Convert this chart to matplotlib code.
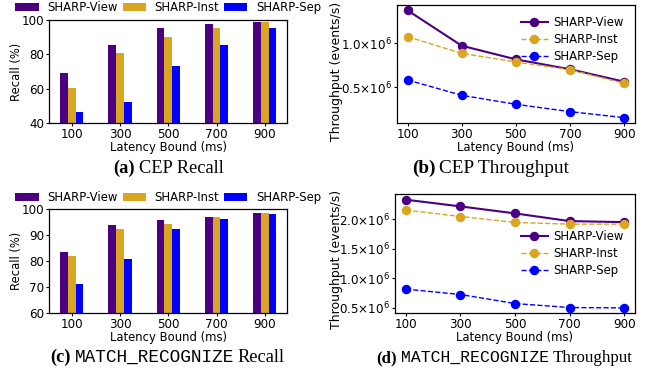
#!/usr/bin/env python3
"""SHARP recall / throughput vs latency bound -> out.png"""
import numpy as np
import matplotlib
matplotlib.use("Agg")
import matplotlib.pyplot as plt
from matplotlib.ticker import MultipleLocator, FuncFormatter

VIEW, INST, SEP = "#4b0082", "#daa520", "#0000ff"
NAMES = ["SHARP-View", "SHARP-Inst", "SHARP-Sep"]
FS, TFS = 8.4, 8.6     # label / legend size, tick label size
plt.rcParams.update({"font.size": FS, "font.family": "DejaVu Sans",
                     "axes.linewidth": 0.9})

latency = [100, 300, 500, 700, 900]

cep_recall_view = [69.4, 85.7, 95.4, 97.7, 98.8]
cep_recall_inst = [60.5, 81.0, 90.1, 95.4, 98.8]
cep_recall_sep = [46.6, 52.4, 73.3, 85.7, 95.4]

mr_recall_view = [83.6, 94.0, 95.9, 97.1, 98.6]
mr_recall_inst = [82.1, 92.4, 94.4, 97.1, 98.6]
mr_recall_sep = [71.3, 80.9, 92.4, 96.3, 98.3]

cep_tput_view = [1.375e6, 0.973e6, 0.818e6, 0.705e6, 0.564e6]
cep_tput_inst = [1.076e6, 0.886e6, 0.788e6, 0.700e6, 0.545e6]
cep_tput_sep = [0.583e6, 0.409e6, 0.307e6, 0.223e6, 0.155e6]

mr_tput_view = [2.336e6, 2.222e6, 2.103e6, 1.972e6, 1.954e6]
mr_tput_inst = [2.160e6, 2.050e6, 1.949e6, 1.920e6, 1.920e6]
mr_tput_sep = [0.813e6, 0.722e6, 0.568e6, 0.500e6, 0.494e6]

W, H = 651, 375
fig = plt.figure(figsize=(W / 100, H / 100), dpi=100)

def px_axes(l, r, t, b):
    return fig.add_axes([l / W, 1 - b / H, (r - l) / W, (b - t) / H])

def style(ax):
    ax.tick_params(length=2, width=0.8, labelsize=TFS, pad=1.5)
    ax.set_xlabel("Latency Bound (ms)", fontsize=FS, labelpad=0)

def bars(ax, series, ylim, step, leg_y):
    x = np.arange(len(latency))
    w = 0.16
    for k, (ys, c) in enumerate(zip(series, [VIEW, INST, SEP])):
        ax.bar(x + (k - 1) * w, ys, width=w, color=c, label=NAMES[k])
    ax.set_xticks(x)
    ax.set_xticklabels([str(v) for v in latency])
    ax.set_ylim(*ylim)
    ax.yaxis.set_major_locator(MultipleLocator(step))
    ax.set_ylabel("Recall (%)", fontsize=8.3)
    ax.yaxis.set_label_coords(-0.112, 0.5)
    style(ax)
    ax.legend(loc="center", bbox_to_anchor=(0.5, leg_y), ncol=3, frameon=False,
              handlelength=2.0, handletextpad=0.75, columnspacing=0.4,
              borderpad=0, fontsize=FS)

def mfmt(v, _=None):
    return f"{v/1e6:.1f}" + r"$\times10^{6}$"

def lines(ax, series, loc, lab_xy):
    styles = [("-", 1.5, VIEW), ("--", 1.0, INST), ("--", 1.0, SEP)]
    for ys, (ls, lw, c), n in zip(series, styles, NAMES):
        ax.plot(latency, ys, ls=ls, lw=lw, color=c, marker="o", ms=5.8, label=n)
    ax.set_xticks(latency)
    ax.yaxis.set_major_locator(MultipleLocator(0.5e6))
    ax.yaxis.set_major_formatter(FuncFormatter(mfmt))
    ax.set_ylabel("Throughput (events/s)", fontsize=9)
    ax.yaxis.set_label_coords(*lab_xy)
    style(ax)
    ax.legend(loc=loc, frameon=False, handlelength=2.3, handletextpad=0.5,
              labelspacing=0.35, fontsize=FS, borderaxespad=0.55)

ax = px_axes(49.3, 287.3, 20, 123.3)
bars(ax, [cep_recall_view, cep_recall_inst, cep_recall_sep], (40, 100), 20, 1.119)

ax = px_axes(396.7, 635, 5, 123)
lines(ax, [cep_tput_view, cep_tput_inst, cep_tput_sep], "upper right", (-0.225, 0.436))

ax = px_axes(49.3, 287.3, 209.3, 313.3)
bars(ax, [mr_recall_view, mr_recall_inst, mr_recall_sep], (60, 100), 10, 1.109)

ax = px_axes(395, 635, 194.3, 313.3)
lines(ax, [mr_tput_view, mr_tput_inst, mr_tput_sep], "center right", (-0.215, 0.456))

# captions: bold tag + serif / monospace pieces, centred as one line and
# scaled so the whole line has the width seen in the original
SERIF = dict(family="Liberation Serif", fontsize=13)
MONO = dict(family="Liberation Mono", fontsize=12.6)

def caption(xc, base, parts, width, gap=4):
    r = fig.canvas.get_renderer()
    ts = [fig.text(0, 1 - base / H, s, va="baseline", ha="left", **kw) for s, kw in parts]
    ws = [t.get_window_extent(r).width for t in ts]
    f = (width - gap * (len(ts) - 1)) / sum(ws)
    for t in ts:
        t.set_fontsize(t.get_fontsize() * f)
    ws = [t.get_window_extent(r).width for t in ts]
    x = xc - (sum(ws) + gap * (len(ts) - 1)) / 2
    for t, w in zip(ts, ws):
        t.set_x(x / W)
        x += w + gap

BOLD = dict(SERIF, weight="bold")
caption(168.3, 173, [("(a)", BOLD), ("CEP Recall", SERIF)], 110)
caption(490.5, 173, [("(b)", BOLD), ("CEP Throughput", SERIF)], 157)
caption(167.5, 362, [("(c)", BOLD), ("MATCH_RECOGNIZE", MONO), ("Recall", SERIF)], 235)
caption(504.2, 362, [("(d)", BOLD), ("MATCH_RECOGNIZE", MONO), ("Throughput", SERIF)], 255)

fig.savefig("out.png", dpi=100)
